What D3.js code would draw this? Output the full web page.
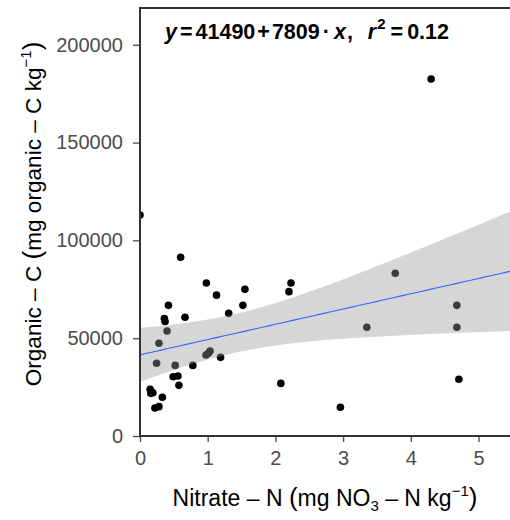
<!DOCTYPE html>
<html>
<head>
<meta charset="utf-8">
<script src="https://cdn.jsdelivr.net/npm/d3@7"></script>
<style>
  body { margin: 0; background: #fff; }
  text { font-family: "Liberation Sans", Arial, sans-serif; }
</style>
</head>
<body>
<svg id="chart" width="510" height="520"></svg>
<script>
// Soil samples: nitrate-N against organic C
const nitrate = [0.00, 4.30, 0.60, 0.98, 1.13, 1.55, 1.52, 1.31, 2.23, 2.20,
                 0.42, 0.36, 0.37, 0.665, 0.40, 0.28, 0.245, 0.52, 0.78, 0.975,
                 1.01, 1.035, 1.19, 0.49, 0.56, 0.575, 0.15, 0.16, 0.19, 0.33,
                 0.22, 0.28, 2.08, 2.96, 3.35, 3.77, 4.68, 4.68, 4.71];
const organicC = [113000, 182500, 91400, 78200, 72000, 75000, 66800, 62700, 78200, 73800,
                  66800, 60100, 58500, 60700, 53700, 47400, 37200, 36100, 36100, 41400,
                  42300, 43400, 40200, 30300, 30700, 25900, 23900, 21800, 22100, 19800,
                  14300, 15000, 26900, 14700, 55600, 83200, 66800, 55600, 29000];

// Fitted linear model (as reported on the chart)
const intercept = 41490;
const slope = 7809;
const rSquared = 0.12;
const tCrit = 2.03; // t quantile 0.975, n - 2 df

const xTicks = [0, 1, 2, 3, 4, 5];
const yTicks = [0, 50000, 100000, 150000, 200000];

const svg = d3.select("#chart");
const pLeft = 140, pTop = 8, pRight = 510, pBottom = 436;

const x = d3.scaleLinear().domain([0, 5.465]).range([pLeft, pRight]);
const y = d3.scaleLinear().domain([0, 218800]).range([pBottom, pTop]);

svg.append("defs").append("clipPath").attr("id", "panel")
  .append("rect").attr("x", pLeft).attr("y", pTop)
  .attr("width", pRight - pLeft + 10).attr("height", pBottom - pTop);

const panel = svg.append("g").attr("clip-path", "url(#panel)");

// points
panel.append("g").selectAll("circle")
  .data(nitrate.map((d, i) => [d, organicC[i]]))
  .join("circle")
  .attr("cx", d => x(d[0]))
  .attr("cy", d => y(d[1]))
  .attr("r", 3.8)
  .attr("fill", "#000");

// confidence band of the fit
const n = nitrate.length;
const xbar = d3.mean(nitrate);
const sxx = d3.sum(nitrate, v => (v - xbar) ** 2);
const fit = v => intercept + slope * v;
const s = Math.sqrt(d3.sum(nitrate, (v, i) => (organicC[i] - fit(v)) ** 2) / (n - 2));
const grid = d3.range(0, 81).map(i => x.domain()[1] * i / 80);
const band = grid.map(v => {
  const h = tCrit * s * Math.sqrt(1 / n + (v - xbar) ** 2 / sxx);
  return { x: v, lo: fit(v) - h, hi: fit(v) + h };
});
panel.append("path")
  .datum(band)
  .attr("fill", "#999999")
  .attr("fill-opacity", 0.4)
  .attr("d", d3.area().x(d => x(d.x)).y0(d => y(d.lo)).y1(d => y(d.hi)));

panel.append("path")
  .datum(grid)
  .attr("fill", "none")
  .attr("stroke", "#3366FF")
  .attr("stroke-width", 1.1)
  .attr("d", d3.line().x(v => x(v)).y(v => y(fit(v))));

// axes
const yAxis = svg.append("g").attr("transform", `translate(${pLeft},0)`)
  .call(d3.axisLeft(y).tickValues(yTicks).tickFormat(d3.format("d")).tickSize(7).tickPadding(10));
const xAxis = svg.append("g").attr("transform", `translate(0,${pBottom})`)
  .call(d3.axisBottom(x).tickValues(xTicks).tickFormat(d3.format("d")).tickSize(6).tickPadding(9));
[yAxis, xAxis].forEach(g => {
  g.select(".domain").remove();
  g.selectAll(".tick line").attr("stroke", "#555").attr("stroke-width", 1.4);
  g.selectAll(".tick text").attr("fill", "#4d4d4d").attr("font-size", 20)
    .style("font-family", '"Liberation Sans", Arial, sans-serif');
});

// panel border (top, left, bottom)
svg.append("path")
  .attr("d", `M${pRight + 2},${pTop} H${pLeft} V${pBottom} H${pRight + 2}`)
  .attr("fill", "none").attr("stroke", "#333").attr("stroke-width", 2);

// axis titles
const yTitle = svg.append("text")
  .attr("transform", "translate(41,214) rotate(-90)")
  .attr("text-anchor", "middle").attr("font-size", 22.6).attr("fill", "#000");
yTitle.append("tspan").text("Organic \u2013 C ");
yTitle.append("tspan").attr("font-size", 26).text("(");
yTitle.append("tspan").text("mg organic \u2013 C kg");
yTitle.append("tspan").attr("font-size", 15).attr("dy", -10).text("\u22121");
yTitle.append("tspan").attr("font-size", 26).attr("dy", 10).text(")");

const xTitle = svg.append("text")
  .attr("x", 325).attr("y", 506)
  .attr("text-anchor", "middle").attr("font-size", 23).attr("fill", "#000");
xTitle.append("tspan").text("Nitrate \u2013 N ");
xTitle.append("tspan").attr("font-size", 26).text("(");
xTitle.append("tspan").text("mg NO");
xTitle.append("tspan").attr("font-size", 15).attr("dy", 5).text("3");
xTitle.append("tspan").attr("dy", -5).text(" \u2013 N kg");
xTitle.append("tspan").attr("font-size", 15).attr("dy", -10).text("\u22121");
xTitle.append("tspan").attr("font-size", 26).attr("dy", 10).text(")");

// regression equation
const eqPieces = [
  { t: "y", it: true, gap: 0 },
  { t: "=", gap: 3 },
  { t: d3.format("d")(intercept), gap: 3 },
  { t: "+", gap: 2 },
  { t: d3.format("d")(slope), gap: 2 },
  { t: "\u00b7", gap: 3 },
  { t: "x", it: true, gap: 4 },
  { t: ",", gap: 1 },
  { t: "r", it: true, gap: 15 },
  { t: "2", sup: true, gap: 1 },
  { t: "=", gap: 5 },
  { t: d3.format(".2f")(rSquared), gap: 4 }
];
let cx = 165;
const eq = svg.append("g");
eqPieces.forEach(p => {
  cx += p.gap;
  const t = eq.append("text")
    .attr("x", cx).attr("y", p.sup ? 29 : 39)
    .attr("font-size", p.sup ? 15 : 21.5)
    .attr("font-weight", "bold")
    .attr("font-style", p.it ? "italic" : "normal")
    .attr("fill", "#000")
    .text(p.t);
  cx += t.node().getComputedTextLength();
});
</script>
</body>
</html>
